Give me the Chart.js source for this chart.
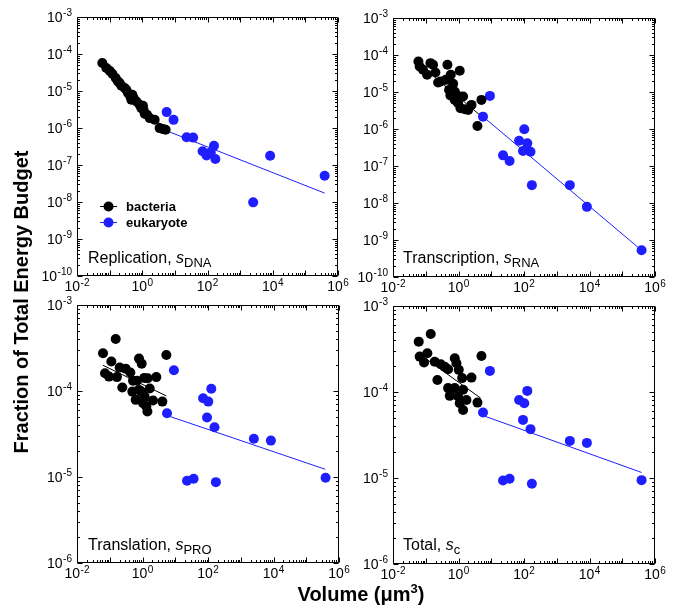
<!DOCTYPE html>
<html><head><meta charset="utf-8">
<script src="https://cdn.jsdelivr.net/npm/chart.js@4/dist/chart.umd.min.js"></script>
<style>
html,body{margin:0;padding:0;background:#fff;}
#wrap{position:relative;width:682px;height:607px;overflow:hidden;background:#fff;font-family:"Liberation Sans",Arial,Helvetica,sans-serif;color:#000;}
canvas{position:absolute;left:0;top:0;}
.lbl{position:absolute;white-space:nowrap;color:#000;}
.pl{font-size:16px;line-height:16px;}
.pl sub{font-size:13px;line-height:0;vertical-align:baseline;position:relative;top:4px;}
.lg{font-size:13px;line-height:13px;font-weight:bold;}
</style></head><body>
<div id="wrap">
<canvas id="c1" width="682" height="607"></canvas>
<canvas id="c2" width="682" height="607"></canvas>
<canvas id="c3" width="682" height="607"></canvas>
<canvas id="c4" width="682" height="607"></canvas>
<div class="lbl pl" style="left:88px;top:250px;">Replication, <i>s</i><sub>DNA</sub></div>
<div class="lbl pl" style="left:403px;top:250px;">Transcription, <i>s</i><sub>RNA</sub></div>
<div class="lbl pl" style="left:88px;top:537px;">Translation, <i>s</i><sub>PRO</sub></div>
<div class="lbl pl" style="left:403px;top:537px;">Total, <i>s</i><sub>c</sub></div>
<div class="lbl lg" style="left:126px;top:200px;">bacteria</div>
<div class="lbl lg" style="left:126px;top:216px;">eukaryote</div>
<div class="lbl" style="left:161px;top:584px;width:400px;text-align:center;font-size:20px;line-height:20px;font-weight:bold;">Volume (μm<span style="font-size:13px;position:relative;top:-8px;line-height:0;">3</span>)</div>
<div class="lbl" style="left:-179.5px;top:290px;width:400px;height:24px;text-align:center;font-size:20px;line-height:24px;font-weight:bold;transform:rotate(-90deg);">Fraction of Total Energy Budget</div>
</div>
<script>
// ---- axis settings ----
const xLabelExps = [-2, 0, 2, 4, 6];
const yLabelExpsTop = [-3, -4, -5, -6, -7, -8, -9, -10];
const yLabelExpsBottom = [-3, -4, -5, -6];

// ---- eukaryote cell volumes (um^3), shared by all panels ----
const eukVolume = [5.6, 9.1, 22.9, 36.3, 70.8, 93.3, 102, 126, 158, 174, 2512, 8318, 3.89e5];
const eukReplication = [2.69e-6, 1.66e-6, 5.62e-7, 5.50e-7, 2.34e-7, 1.82e-7, 2.0e-7, 2.19e-7, 3.31e-7, 1.45e-7, 9.77e-9, 1.78e-7, 5.13e-8];
const eukTranscription = [2.16e-6, 7.85e-6, 1.94e-7, 1.36e-7, 4.84e-7, 2.54e-7, 9.82e-7, 4.09e-7, 2.44e-7, 3.04e-8, 3.04e-8, 7.87e-9, 5.27e-10];
const eukTranslation = [5.52e-5, 1.74e-4, 9.04e-6, 9.53e-6, 8.24e-5, 4.91e-5, 7.53e-5, 1.06e-4, 3.79e-5, 8.71e-6, 2.78e-5, 2.65e-5, 9.79e-6];
const eukTotal = [5.77e-5, 1.76e-4, 9.35e-6, 9.79e-6, 8.09e-5, 4.74e-5, 7.41e-5, 1.03e-4, 3.70e-5, 8.57e-6, 2.70e-5, 2.56e-5, 9.44e-6];

// ---- bacteria (volume, fraction) per panel ----
const bactRepV = [0.0597,0.0792,0.100,0.121,0.153,0.180,0.203,0.229,0.289,0.325,0.366,0.431,0.462,0.497,0.545,0.658,0.832,1.05,0.935,1.10,1.19,1.40,1.69,2.40,3.41,4.32,5.21];
const bactRepS = [5.70e-5,4.17e-5,3.53e-5,2.93e-5,2.24e-5,1.82e-5,1.64e-5,1.39e-5,1.20e-5,1.08e-5,8.79e-6,7.14e-6,5.81e-6,7.93e-6,6.44e-6,5.24e-6,4.26e-6,4.00e-6,3.45e-6,3.11e-6,2.43e-6,2.28e-6,1.85e-6,1.67e-6,9.93e-7,9.33e-7,8.95e-7];

const bactTxV = [0.0596,0.0653,0.0826,0.110,0.139,0.167,0.197,0.238,0.287,0.408,0.459,0.581,0.684,0.516,0.769,0.566,0.865,0.769,0.973,1.09,1.38,1.15,1.56,1.97,2.49,3.79,5.02];
const bactTxS = [6.70e-5,4.90e-5,3.98e-5,2.91e-5,6.03e-5,5.43e-5,3.37e-5,1.81e-5,1.92e-5,2.13e-5,5.43e-5,2.91e-5,1.66e-5,1.14e-5,1.03e-5,8.02e-6,8.36e-6,6.12e-6,4.97e-6,3.74e-5,7.53e-6,3.64e-6,3.42e-6,3.28e-6,4.48e-6,1.21e-6,6.12e-6];

const bactTlV = [0.0622,0.152,0.112,0.0716,0.0948,0.166,0.201,0.242,0.306,0.425,0.513,0.679,0.782,0.944,0.490,0.618,0.782,0.920,1.14,1.44,1.66,1.04,1.31,1.41,2.09,2.64,4.04,5.35,1.16];
const bactTlS = [2.75e-4,4.03e-4,2.20e-4,1.61e-4,1.47e-4,1.45e-4,1.87e-4,1.10e-4,1.82e-4,1.64e-4,1.32e-4,1.32e-4,2.38e-4,2.08e-4,9.84e-5,7.89e-5,1.03e-4,9.84e-5,1.42e-4,1.41e-4,1.07e-4,7.21e-5,6.59e-5,5.77e-5,7.74e-5,1.45e-4,7.53e-5,2.62e-4,8.61e-5];

const bactTotV = [0.0610,0.142,0.0653,0.112,0.0887,0.188,0.287,0.380,0.481,0.769,0.865,1.02,1.29,2.49,5.02,0.227,0.481,0.769,0.541,0.973,1.38,1.75,1.09,3.79,1.38];
const bactTotS = [3.85e-4,4.73e-4,2.58e-4,2.82e-4,2.20e-4,2.25e-4,2.10e-4,1.97e-4,1.84e-4,2.47e-4,2.16e-4,1.81e-4,1.45e-4,1.47e-4,2.62e-4,1.38e-4,1.11e-4,1.11e-4,9.02e-5,8.85e-5,1.06e-4,8.09e-5,7.41e-5,7.53e-5,6.19e-5];

// ---- fitted power-law lines (endpoints) ----
const fitRepBact = [[0.0603, 5.75e-5], [5.25, 8.9e-7]];
const fitRepEuk = [[6.17, 8.13e-7], [3.89e5, 1.74e-8]];
const fitTxBact = [[0.0582, 6.03e-5], [4.47, 2.40e-6]];
const fitTxEuk = [[5.62, 2.16e-6], [3.89e5, 5.27e-10]];
const fitTlBact = [[0.0622, 1.99e-4], [5.35, 8.77e-5]];
const fitTlEuk = [[5.62, 5.19e-5], [3.80e5, 1.23e-5]];
const fitTotBact = [[0.0596, 2.82e-4], [4.79, 8.47e-5]];
const fitTotEuk = [[5.62, 5.32e-5], [3.89e5, 1.16e-5]];

const BLUE = '#1e1eff';
const FONT = '"Liberation Sans", Arial, Helvetica, sans-serif';

function pts(xs, ys){ return xs.map((v,i)=>({x:v, y:ys[i]})); }
function linePts(arr){ return arr.map(p=>({x:p[0], y:p[1]})); }

const framePlugin = {
  id: 'frame',
  afterDatasetsDraw(chart, args, opts){
    const ctx = chart.ctx, a = chart.chartArea, xs = chart.scales.x, ys = chart.scales.y;
    ctx.save();
    ctx.strokeStyle = '#000'; ctx.lineWidth = 1;
    const L = Math.round(a.left)+0.5, R = Math.round(a.right)-0.5, T = Math.round(a.top)+0.5, B = Math.round(a.bottom)-0.5;
    ctx.beginPath();
    ctx.rect(L, T, R-L, B-T);
    for (let e = -2; e <= 6; e++) {
      for (let m = 1; m <= 9; m++) {
        if (e === 6 && m > 1) break;
        const px = Math.round(xs.getPixelForValue(m*Math.pow(10,e))) + 0.5;
        const len = m === 1 ? 5 : 2.5;
        ctx.moveTo(px, B); ctx.lineTo(px, B-len);
        ctx.moveTo(px, T); ctx.lineTo(px, T+len);
      }
    }
    const yTop = opts.yExps[0], yBot = opts.yExps[opts.yExps.length-1];
    for (let e = yBot; e <= yTop; e++) {
      for (let m = 1; m <= 9; m++) {
        if (e === yTop && m > 1) break;
        const py = Math.round(ys.getPixelForValue(m*Math.pow(10,e))) + 0.5;
        const len = m === 1 ? 5 : 2.5;
        ctx.moveTo(L, py); ctx.lineTo(L+len, py);
        ctx.moveTo(R, py); ctx.lineTo(R-len, py);
      }
    }
    ctx.stroke();
    ctx.fillStyle = '#000';
    ctx.textBaseline = 'alphabetic';
    const big = '14px ' + FONT, small = '10px ' + FONT;
    opts.yExps.forEach(e => {
      const py = ys.getPixelForValue(Math.pow(10,e));
      const ex = String(e);
      ctx.font = small;
      const we = ctx.measureText(ex).width;
      const xr = a.left - 5;
      ctx.textAlign = 'left';
      ctx.fillText(ex, xr - we, py - 1);
      ctx.font = big;
      ctx.textAlign = 'right';
      ctx.fillText('10', xr - we - 0.5, py + 5);
    });
    xLabelExps.forEach(e => {
      const px = xs.getPixelForValue(Math.pow(10,e));
      const ex = String(e);
      ctx.font = small;
      const we = ctx.measureText(ex).width;
      ctx.font = big;
      const wb = ctx.measureText('10').width;
      const x0 = px - (wb + 0.5 + we)/2;
      ctx.textAlign = 'left';
      ctx.fillText('10', x0, a.bottom + 15);
      ctx.font = small;
      ctx.fillText(ex, x0 + wb + 0.5, a.bottom + 10);
    });
    if (opts.legend) {
      [['#000', 206.5], [BLUE, 222.5]].forEach(([c, yy]) => {
        ctx.strokeStyle = c; ctx.fillStyle = c;
        ctx.beginPath(); ctx.moveTo(100, yy); ctx.lineTo(117, yy); ctx.stroke();
        ctx.beginPath(); ctx.arc(108.5, yy, 5, 0, Math.PI*2); ctx.fill();
      });
    }
    ctx.restore();
  }
};

function makePanel(id, pad, yMin, yMax, yExps, bx, by, ex, ey, fitB, fitE, legend){
  return new Chart(document.getElementById(id), {
    type: 'scatter',
    data: { datasets: [
      { label: 'bacteria', data: pts(bx, by), backgroundColor: '#000', borderColor: '#000', pointRadius: 5, borderWidth: 0 },
      { label: 'eukaryote', data: pts(ex, ey), backgroundColor: BLUE, borderColor: BLUE, pointRadius: 5, borderWidth: 0 },
      { label: 'bacteria fit', data: linePts(fitB), showLine: true, borderColor: '#000', borderWidth: 1, pointRadius: 0 },
      { label: 'eukaryote fit', data: linePts(fitE), showLine: true, borderColor: BLUE, borderWidth: 1, pointRadius: 0 }
    ]},
    options: {
      responsive: false, animation: false, devicePixelRatio: 1,
      layout: { padding: pad, autoPadding: false },
      plugins: { legend: { display: false }, tooltip: { enabled: false }, frame: { yExps: yExps, legend: legend } },
      scales: {
        x: { type: 'logarithmic', min: 1e-2, max: 1e6, ticks: { display: false }, grid: { display: false }, border: { display: false }, afterFit(s){ s.height = 0; } },
        y: { type: 'logarithmic', min: yMin, max: yMax, ticks: { display: false }, grid: { display: false }, border: { display: false }, afterFit(s){ s.width = 0; } }
      }
    },
    plugins: [framePlugin]
  });
}

makePanel('c1', {left:77, top:17, right:344, bottom:331}, 1e-10, 1e-3, yLabelExpsTop, bactRepV, bactRepS, eukVolume, eukReplication, fitRepBact, fitRepEuk, true);
makePanel('c2', {left:393, top:18, right:27, bottom:330}, 1e-10, 1e-3, yLabelExpsTop, bactTxV, bactTxS, eukVolume, eukTranscription, fitTxBact, fitTxEuk, false);
makePanel('c3', {left:77, top:305, right:343, bottom:44}, 1e-6, 1e-3, yLabelExpsBottom, bactTlV, bactTlS, eukVolume, eukTranslation, fitTlBact, fitTlEuk, false);
makePanel('c4', {left:393, top:306, right:27, bottom:43}, 1e-6, 1e-3, yLabelExpsBottom, bactTotV, bactTotS, eukVolume, eukTotal, fitTotBact, fitTotEuk, false);
</script>
</body></html>
